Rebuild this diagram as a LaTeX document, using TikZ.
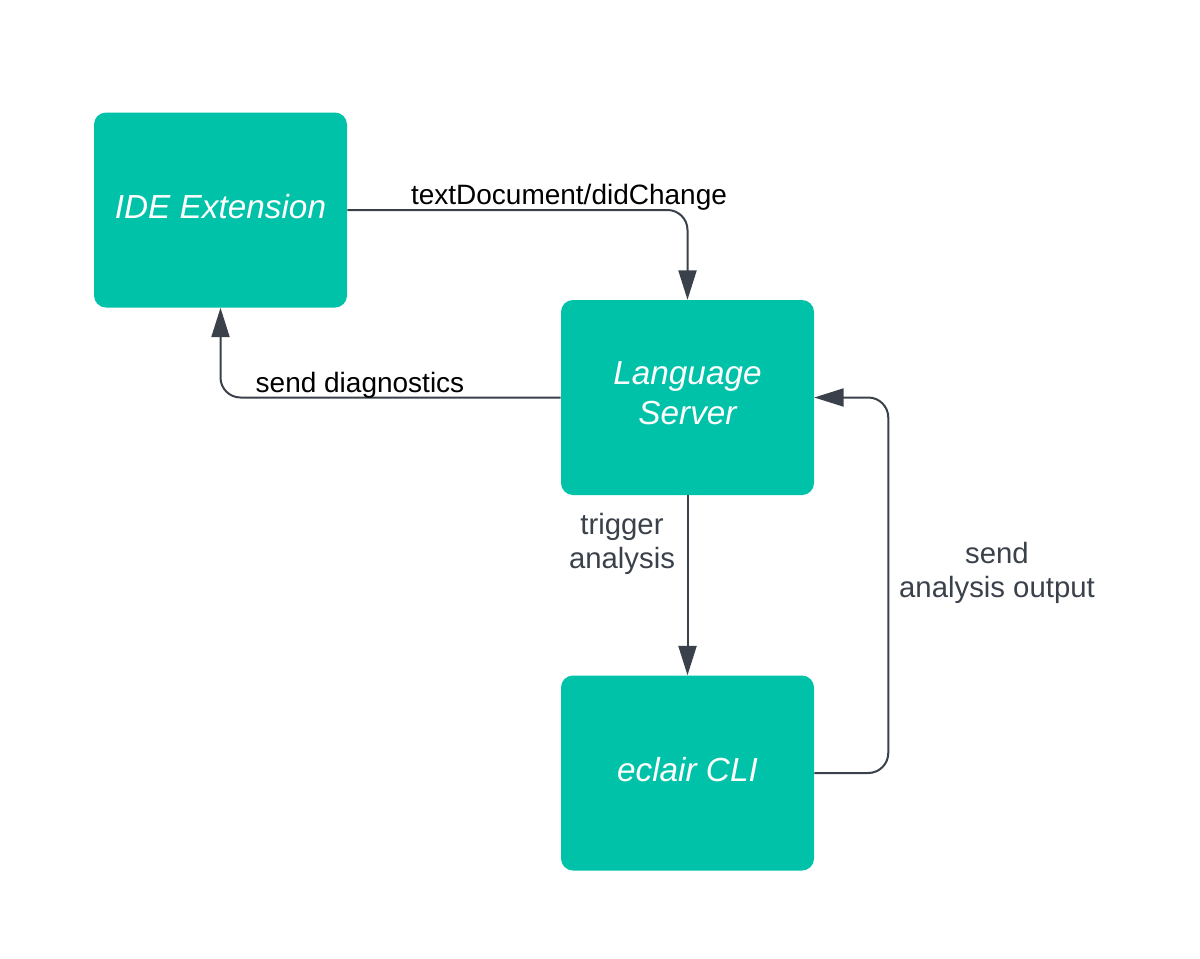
\documentclass[tikz,border=0pt]{standalone}
\usepackage{fontspec}
\setmainfont{Liberation Sans}
\usetikzlibrary{arrows.meta,positioning}
\definecolor{lucidteal}{HTML}{00C2A8}
\definecolor{linegray}{HTML}{3A414A}

\begin{document}
\begin{tikzpicture} [
    x = 0.75pt, y = -0.75pt,
    box/.style = { fill = lucidteal, rounded corners = 9pt, minimum width = 189.75pt, minimum height = 146.25pt,
                   inner sep = 0, text depth = 6pt, text = white, align = center, font = \fontsize{25}{30}\selectfont\itshape },
    flow/.style = { draw = linegray, line width = 1.5pt, rounded corners = 15pt, -{Triangle[length = 22pt, width = 13.5pt]} },
    lbl/.style = { inner sep = 0, align = center, font = \fontsize{21}{26}\selectfont },
    note/.style = { inner sep = 0, align = center, text = linegray, font = \fontsize{22}{25.5}\selectfont }
    ]
    \useasboundingbox (0,0) rectangle (1200,958);

    \node [box] (ide) at (220.5,210) {IDE Extension};
    \node [box] (ls) at (687.5,397.5) {Language\\Server};
    \node [box] (cli) at (687.5,773) {eclair CLI};

    \draw [flow] (ide.east) -| (ls.north);
    \draw [flow] (ls.west) -| (ide.south);
    \draw [flow] (ls.south) -- (cli.north);
    \draw [flow] (cli.east) -- ++(74,0) |- (ls.east);

    \node [lbl, anchor = base] (didchange) at (569,204) {textDocument/didChange};
    \node [lbl, anchor = base] (diag) at (360,392) {send diagnostics};
    \node [note] (trigger) at (622,544) {trigger\\analysis};
    \node [note] (output) at (997,573) {send\\analysis output};
  \end{tikzpicture}
\end{document}
